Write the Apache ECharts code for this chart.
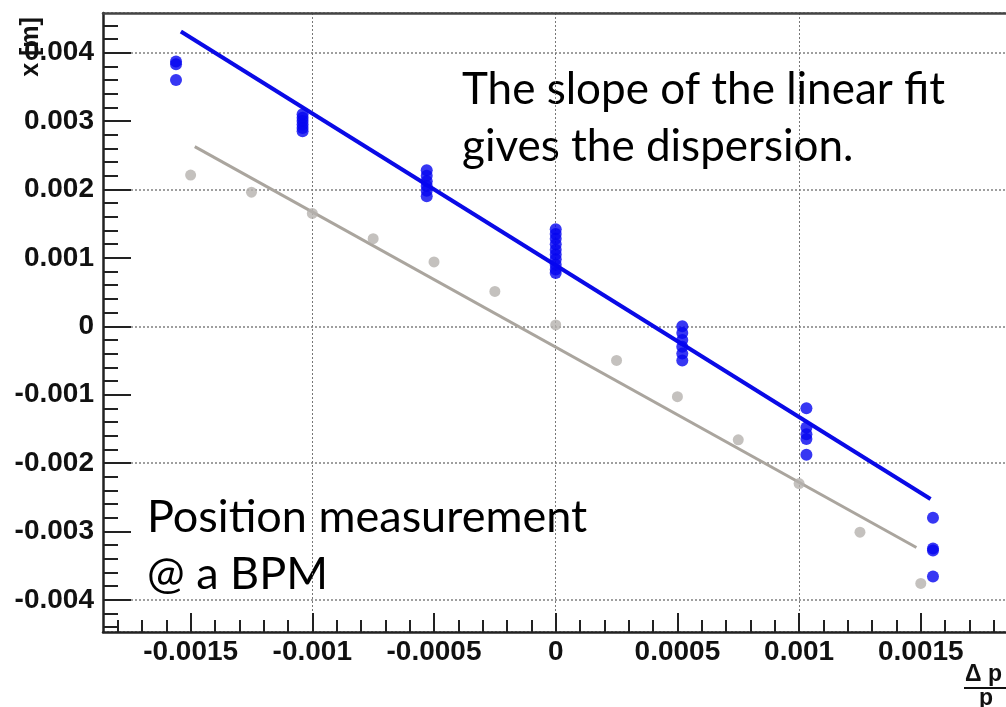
<!DOCTYPE html>
<html>
<head>
<meta charset="utf-8">
<title>Dispersion fit</title>
<script src="https://cdn.jsdelivr.net/npm/echarts@6/dist/echarts.min.js"></script>
<style>
  html, body { margin: 0; padding: 0; background: #fff; }
  #chart { width: 1006px; height: 707px; }
</style>
</head>
<body>
<div id="chart"></div>
<script>
// measured BPM positions (blue), several shots per momentum offset
const blueX = [
  -0.00156, -0.00156, -0.00156,
  -0.00104, -0.00104, -0.00104, -0.00104, -0.00104, -0.00104,
  -0.00053, -0.00053, -0.00053, -0.00053, -0.00053, -0.00053,
  0, 0, 0, 0, 0, 0, 0, 0, 0, 0,
  0.00052, 0.00052, 0.00052, 0.00052, 0.00052, 0.00052,
  0.00103, 0.00103, 0.00103, 0.00103, 0.00103,
  0.00155, 0.00155, 0.00155, 0.00155
];
const blueY = [
  0.00387, 0.00383, 0.0036,
  0.0031, 0.00305, 0.003, 0.00295, 0.0029, 0.00285,
  0.00228, 0.0022, 0.00212, 0.00205, 0.00198, 0.0019,
  0.00142, 0.00135, 0.00128, 0.0012, 0.00112, 0.00105, 0.00098, 0.0009, 0.00083, 0.00078,
  0.0, -0.0001, -0.0002, -0.0003, -0.0004, -0.0005,
  -0.0012, -0.00148, -0.00158, -0.00165, -0.00188,
  -0.0028, -0.00325, -0.00328, -0.00366
];

// grey reference measurement
const greyX = [-0.0015, -0.00125, -0.001, -0.00075, -0.0005, -0.00025, 0, 0.00025, 0.0005, 0.00075, 0.001, 0.00125, 0.0015];
const greyY = [0.00221, 0.00196, 0.00165, 0.00128, 0.00094, 0.00051, 0.00002, -0.0005, -0.00103, -0.00166, -0.0023, -0.00301, -0.00376];

// linear fit end points
const blueFitX = [-0.00154, 0.00154];
const blueFitY = [0.00431, -0.002525];
const greyFitX = [-0.001483, 0.001482];
const greyFitY = [0.002627, -0.003235];

// axis ticks
const xTicks = [-0.0015, -0.001, -0.0005, 0, 0.0005, 0.001, 0.0015];
const xTickLabels = ['-0.0015', '-0.001', '-0.0005', '0', '0.0005', '0.001', '0.0015'];
const yTicks = [-0.004, -0.003, -0.002, -0.001, 0, 0.001, 0.002, 0.003, 0.004];
const yTickLabels = ['-0.004', '-0.003', '-0.002', '-0.001', '0', '0.001', '0.002', '0.003', '0.004'];
const xMajor = { min: -0.0015, max: 0.0015, step: 0.0005 };
const xMinor = { min: -0.0018, max: 0.0018, step: 0.0001 };
const yMajor = { min: -0.004, max: 0.004, step: 0.001 };
const yMinor = { min: -0.0044, max: 0.0044, step: 0.0002 };

const X_MIN = -0.00186, X_MAX = 0.00185;
const Y_MIN = -0.00447, Y_MAX = 0.00458;

// plot box in pixels
const PLOT = { left: 103, top: 13, width: 903, height: 619 };
const px = v => PLOT.left + (v - X_MIN) / (X_MAX - X_MIN) * PLOT.width;
const py = v => PLOT.top + (Y_MAX - v) / (Y_MAX - Y_MIN) * PLOT.height;

function lookup(ticks, labels) {
  return v => {
    const i = ticks.findIndex(t => Math.abs(t - v) < 1e-9);
    return i >= 0 ? labels[i] : '';
  };
}

const zip = (xs, ys) => xs.map((x, i) => [x, ys[i]]);

const chart = echarts.init(document.getElementById('chart'), null, { renderer: 'canvas' });

const labelFont = {
  fontFamily: 'Liberation Sans, Arial, sans-serif',
  fontWeight: 'bold',
  fontSize: 28,
  color: '#111'
};
const noteFont = '45px Lato, sans-serif';
const fracFont = 'bold 23px "Liberation Sans", Arial, sans-serif';
const tickColor = '#222';

// helper grids that only carry tick marks, each spanning exactly its tick range
const tickGrids = [
  { left: px(xMajor.min), width: px(xMajor.max) - px(xMajor.min), top: PLOT.top, height: PLOT.height },
  { left: px(xMinor.min), width: px(xMinor.max) - px(xMinor.min), top: PLOT.top, height: PLOT.height },
  { left: PLOT.left, width: PLOT.width, top: py(yMajor.max), height: py(yMajor.min) - py(yMajor.max) },
  { left: PLOT.left, width: PLOT.width, top: py(yMinor.max), height: py(yMinor.min) - py(yMinor.max) }
];

const hiddenAxis = gridIndex => ({
  type: 'value', gridIndex, min: 0, max: 1, show: false,
  axisLine: { show: false }, axisTick: { show: false }, axisLabel: { show: false }, splitLine: { show: false }
});
const tickAxis = (gridIndex, range, len) => ({
  type: 'value', gridIndex, min: range.min, max: range.max, interval: range.step,
  axisLine: { show: false },
  axisTick: { show: true, inside: true, length: len, lineStyle: { color: tickColor, width: 2 } },
  axisLabel: { show: false },
  splitLine: { show: false }
});

const option = {
  backgroundColor: '#fff',
  animation: false,
  grid: [
    { left: PLOT.left, top: PLOT.top, width: PLOT.width, height: PLOT.height },
    ...tickGrids
  ],
  xAxis: [
    {
      type: 'value', gridIndex: 0, min: X_MIN, max: X_MAX, position: 'bottom',
      axisLine: { show: true, onZero: false, lineStyle: { color: '#222', width: 2.5 } },
      axisTick: { show: false },
      axisLabel: { ...labelFont, margin: 6, customValues: xTicks, formatter: lookup(xTicks, xTickLabels) },
      splitLine: { show: true, lineStyle: { type: [2, 2], color: '#777', width: 1 } }
    },
    {
      // top frame
      type: 'value', gridIndex: 0, min: X_MIN, max: X_MAX, position: 'top',
      axisLine: { show: true, onZero: false, lineStyle: { color: '#444', width: 2.5 } },
      axisTick: { show: false }, axisLabel: { show: false }, splitLine: { show: false }
    },
    tickAxis(1, xMajor, 19),
    tickAxis(2, xMinor, 12),
    hiddenAxis(3),
    hiddenAxis(4)
  ],
  yAxis: [
    {
      type: 'value', gridIndex: 0, min: Y_MIN, max: Y_MAX, position: 'left',
      axisLine: { show: true, onZero: false, lineStyle: { color: '#222', width: 2.5 } },
      axisTick: { show: false },
      axisLabel: { ...labelFont, margin: 9, customValues: yTicks, formatter: lookup(yTicks, yTickLabels) },
      splitLine: { show: true, lineStyle: { type: [2, 2], color: '#888', width: 1.6 } }
    },
    hiddenAxis(1),
    hiddenAxis(2),
    tickAxis(3, yMajor, 28),
    tickAxis(4, yMinor, 15)
  ],
  series: [
    {
      type: 'line', data: zip(greyFitX, greyFitY), symbol: 'none',
      lineStyle: { color: '#aaa59e', width: 3 }, z: 2
    },
    {
      type: 'scatter', data: zip(greyX, greyY), symbol: 'circle', symbolSize: 11,
      itemStyle: { color: '#b5b2ae' }, z: 3
    },
    {
      type: 'line', data: zip(blueFitX, blueFitY), symbol: 'none',
      lineStyle: { color: '#0a0ae6', width: 4 }, z: 4
    },
    {
      type: 'scatter', data: zip(blueX, blueY), symbol: 'circle', symbolSize: 12,
      itemStyle: { color: '#0505f0' }, z: 5
    }
  ],
  graphic: [
    {
      type: 'text', x: 31, y: 47, rotation: Math.PI / 2,
      style: { text: 'x [m]', fill: '#111', font: 'bold 25px "Liberation Sans", Arial, sans-serif', textAlign: 'center', textVerticalAlign: 'middle' }
    },
    {
      type: 'text', x: 462, y: 112,
      style: { text: 'The slope of the linear fit', fill: '#000', font: '44px Lato, sans-serif', textAlign: 'left', textVerticalAlign: 'bottom' }
    },
    {
      type: 'text', x: 462, y: 169,
      style: { text: 'gives the dispersion.', fill: '#000', font: '44px Lato, sans-serif', textAlign: 'left', textVerticalAlign: 'bottom' }
    },
    {
      type: 'text', x: 147, y: 540,
      style: { text: 'Position measurement', fill: '#000', font: noteFont, textAlign: 'left', textVerticalAlign: 'bottom' }
    },
    {
      type: 'text', x: 147, y: 597,
      style: { text: '@ a BPM', fill: '#000', font: noteFont, textAlign: 'left', textVerticalAlign: 'bottom' }
    },
    {
      type: 'text', x: 965, y: 686,
      style: { text: '\u0394 p', fill: '#111', font: fracFont, textAlign: 'left', textVerticalAlign: 'bottom' }
    },
    {
      type: 'line', shape: { x1: 964, y1: 688, x2: 1006, y2: 688 },
      style: { stroke: '#111', lineWidth: 2 }
    },
    {
      type: 'text', x: 979, y: 710,
      style: { text: 'p', fill: '#111', font: fracFont, textAlign: 'left', textVerticalAlign: 'bottom' }
    }
  ]
};

chart.setOption(option);
</script>
</body>
</html>
